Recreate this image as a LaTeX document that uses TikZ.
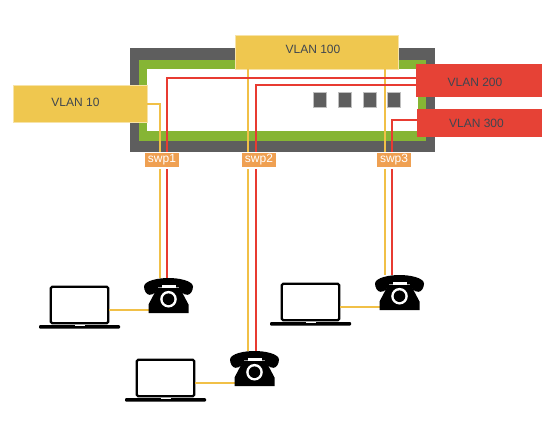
\documentclass[tikz,border=0pt]{standalone}
\usepackage{xcolor}
\usepackage{fontspec}
\setmainfont{Liberation Sans}
\usepackage{tikz}
\usetikzlibrary{positioning}

\definecolor{framegray}{HTML}{5E5E5E}
\definecolor{framegreen}{HTML}{86B534}
\definecolor{vlanyellow}{HTML}{EFC74F}
\definecolor{vlanred}{HTML}{E64236}
\definecolor{swporange}{HTML}{EFA052}
\definecolor{vlantext}{HTML}{3F4650}

\tikzset{
 vlanbox/.style={rectangle, inner sep=0pt, text=vlantext, font=\fontsize{12}{14}\selectfont},
 swpbox/.style={rectangle, draw=white, line width=1.5pt, fill=swporange, text=white, inner sep=0pt,
   minimum width=35pt, minimum height=15.5pt, font=\fontsize{12}{14}\selectfont},
 portbox/.style={rectangle, fill=framegray, draw=framegray!40, line width=0.4pt, inner sep=0pt,
   minimum width=13pt, minimum height=15pt},
 phonebox/.style={rectangle, inner sep=0pt, minimum width=49pt, minimum height=35pt},
 laptopbox/.style={rectangle, draw=black, line width=2.4pt, rounded corners=1.5pt, inner sep=0pt,
   minimum width=57.5pt, minimum height=36.5pt},
 yellowline/.style={draw=vlanyellow!90!orange, line width=2pt},
 redline/.style={draw=vlanred!90!red, line width=2pt},
 phone/.pic={
  \fill [black] (-24.5,-9) .. controls (-24,-15) and (-10,-17.5) .. (0,-17.5)
    .. controls (10,-17.5) and (24,-15) .. (24.5,-9)
    .. controls (24.5,-5) and (22,-0.7) .. (19,-0.7)
    .. controls (15,-0.7) and (11,-4) .. (10.5,-8.5)
    -- (-10.5,-8.5)
    .. controls (-11,-4) and (-15,-0.7) .. (-19,-0.7)
    .. controls (-22,-0.7) and (-24.5,-5) .. (-24.5,-9) -- cycle;
  \fill [black] (-20,17.5) -- (-20,9) -- (-11,-8) -- (11,-8) -- (20,9) -- (20,17.5) -- cycle;
  \fill [white] (-7,-10.7) rectangle (7,-7.3);
  \fill [white] (0,3.7) circle (8.3);
  \fill [black] (0,3.7) circle (5.8);
 },
 laptop/.pic={
  \fill [black, rounded corners=1pt] (-40.5,20) rectangle (40.5,23.5);
  \fill [white] (-5,20) rectangle (5,21.3);
 }
}

\begin{document}
\begin{tikzpicture}[x=1pt, y=-1pt]
 \useasboundingbox (0,0) rectangle (553,428);

 % switch frame
 \fill [framegray] (130,48) rectangle (435,152);
 \fill [framegreen] (139,60) rectangle (426,141);
 \fill [white] (147,69) rectangle (418,131);

 \node [portbox] (PortA) at (319.5,99.5) {};
 \node [portbox] (PortB) at (344.5,99.5) {};
 \node [portbox] (PortC) at (369.5,100) {};
 \node [portbox] (PortD) at (394,100) {};

 \node [vlanbox, fill=vlanyellow, draw=vlanyellow!50, line width=0.6pt, minimum width=134pt, minimum height=37pt, text depth=3pt] (VlanTen) at (80,103.5) {\hspace*{-9pt}VLAN 10};
 \node [vlanbox, fill=vlanyellow, draw=vlanyellow!50, line width=0.6pt, minimum width=163pt, minimum height=34pt, text depth=6pt] (VlanHundred) at (316.5,52) {\hspace*{-7pt}VLAN 100};
 \node [vlanbox, fill=vlanred, minimum width=126pt, minimum height=33pt, text height=11.6pt] (VlanTwoHundred) at (479,80.5) {\hspace*{-8pt}VLAN 200};
 \node [vlanbox, fill=vlanred, minimum width=125pt, minimum height=28pt] (VlanThreeHundred) at (479.5,123) {\hspace*{-6pt}VLAN 300};

 \node [phonebox] (PhoneA) at (168.5,295.5) {};
 \node [phonebox] (PhoneB) at (254.5,368.5) {};
 \node [phonebox] (PhoneC) at (399.5,292.5) {};

 \node [laptopbox] (LaptopA) at (79.5,305) {};
 \node [laptopbox] (LaptopB) at (165.5,378) {};
 \node [laptopbox] (LaptopC) at (310.5,302) {};

 % vlan links
 \draw [yellowline] (VlanTen.east) -| ([xshift=-8.5pt]PhoneA.north);
 \draw [yellowline] ([xshift=-68.5pt]VlanHundred.south) -- ([xshift=-6.5pt]PhoneB.north);
 \draw [yellowline] ([xshift=68.5pt]VlanHundred.south) -- ([xshift=-14.5pt]PhoneC.north);
 \draw [redline] ([yshift=2.5pt]VlanTwoHundred.west) -| ([xshift=-1.5pt]PhoneA.north);
 \draw [redline] ([yshift=-4.5pt]VlanTwoHundred.west) -| ([xshift=1.5pt]PhoneB.north);
 \draw [redline] ([yshift=3pt]VlanThreeHundred.west) -| ([xshift=-7.5pt]PhoneC.north);

 % laptop to phone
 \draw [yellowline] ([yshift=-5pt]LaptopA.east) -- ([xshift=5pt,yshift=-14.5pt]PhoneA.west);
 \draw [yellowline] ([yshift=-5pt]LaptopB.east) -- ([xshift=5pt,yshift=-14.5pt]PhoneB.west);
 \draw [yellowline] ([yshift=-5pt]LaptopC.east) -- ([xshift=5pt,yshift=-14.5pt]PhoneC.west);

 \node [swpbox] (SwpA) at (162,160) {swp1};
 \node [swpbox] (SwpB) at (259,160) {swp2};
 \node [swpbox] (SwpC) at (394,160) {swp3};

 \pic at (PhoneA) {phone};
 \pic at (PhoneB) {phone};
 \pic at (PhoneC) {phone};
 \pic at (LaptopA) {laptop};
 \pic at (LaptopB) {laptop};
 \pic at (LaptopC) {laptop};
\end{tikzpicture}
\end{document}
